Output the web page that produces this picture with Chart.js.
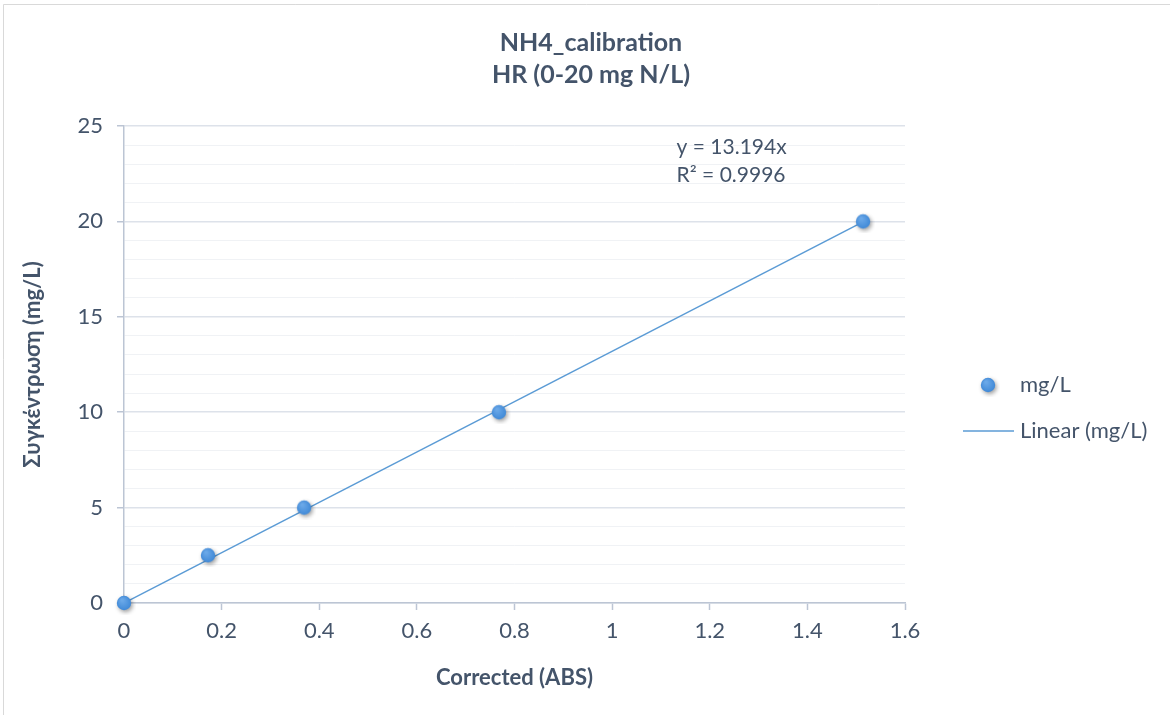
<!DOCTYPE html>
<html>
<head>
<meta charset="utf-8">
<script src="https://cdn.jsdelivr.net/npm/chart.js@4.4.0/dist/chart.umd.min.js"></script>
<style>
    html, body { margin: 0; padding: 0; background: #fff; }
    #wrap { position: relative; width: 1170px; height: 715px; }
</style>
</head>
<body>
<div id="wrap"><canvas id="nh4CalibrationChart" width="1170" height="715"></canvas></div>
<script>
'use strict';

// standards: corrected absorbance vs. concentration
var absValues   = [0, 0.172, 0.369, 0.768, 1.514];
var concValues  = [0, 2.5, 5, 10, 20];

// fitted trendline (through origin)
var fitSlope    = 13.194;
var fitR2       = 0.9996;

var xTickValues = [0, 0.2, 0.4, 0.6, 0.8, 1, 1.2, 1.4, 1.6];
var xTickLabels = ['0', '0.2', '0.4', '0.6', '0.8', '1', '1.2', '1.4', '1.6'];
var yTickValues = [0, 5, 10, 15, 20, 25];
var yTickLabels = ['0', '5', '10', '15', '20', '25'];

var titleLines  = ['NH4_calibration', 'HR (0-20 mg N/L)'];
var seriesName  = 'mg/L';
var trendName   = 'Linear (mg/L)';

var colors = {
    text       : '#44546a',
    marker     : '#3d87d6',
    markerLight: '#6aa8e8',
    trend      : '#5b9bd5',
    axis       : '#bcc5d4',
    gridMajor  : '#dde2ea',
    gridMinor  : '#f0f2f5',
    frame      : '#d9d9d9'
};
var fontFamily = "Lato, 'Noto Sans', sans-serif";

var scatterPoints = absValues.map(function(x, i) {
    return { x: x, y: concValues[i] };
});
var xLast = absValues[absValues.length - 1];
var trendPoints = [
    { x: 0, y: 0 },
    { x: xLast, y: fitSlope * xLast }
];

// round marker with a soft drop shadow, used for points and legend
function makeMarker() {
    var c = document.createElement('canvas');
    c.width = 24; c.height = 24;
    var g = c.getContext('2d');
    g.shadowColor = 'rgba(0, 0, 0, 0.38)';
    g.shadowBlur = 4;
    g.shadowOffsetX = 1.5;
    g.shadowOffsetY = 2;
    var grad = g.createRadialGradient(10, 9, 1, 12, 12, 8);
    grad.addColorStop(0, colors.markerLight);
    grad.addColorStop(1, colors.marker);
    g.fillStyle = grad;
    g.beginPath();
    g.arc(12, 12, 7.2, 0, Math.PI * 2);
    g.fill();
    return c;
}
var marker = makeMarker();

var chartDecor = {
    id: 'chartDecor',
    beforeDraw: function(chart) {
        var ctx = chart.ctx;
        ctx.save();
        ctx.fillStyle = '#ffffff';
        ctx.fillRect(0, 0, chart.width, chart.height);
        ctx.strokeStyle = colors.frame;
        ctx.lineWidth = 1;
        ctx.beginPath();
        ctx.moveTo(3.5, chart.height);
        ctx.lineTo(3.5, 4.5);
        ctx.lineTo(chart.width, 4.5);
        ctx.stroke();
        ctx.restore();
    },
    afterDraw: function(chart) {
        var ctx = chart.ctx;
        var area = chart.chartArea;
        var xs = chart.scales.x, ys = chart.scales.y;
        ctx.save();
        ctx.fillStyle = colors.text;
        ctx.textBaseline = 'middle';

        // chart title
        ctx.textAlign = 'center';
        ctx.font = 'bold 25px ' + fontFamily;
        titleLines.forEach(function(line, i) {
            ctx.fillText(line, 591, 43 + i * 32);
        });

        // trendline equation
        ctx.textAlign = 'left';
        ctx.font = '21px ' + fontFamily;
        var ex = xs.getPixelForValue(1.132);
        var ey = ys.getPixelForValue(23.9);
        ctx.fillText('y = ' + fitSlope + 'x', ex, ey);
        ctx.fillText('R\u00b2 = ' + fitR2, ex, ey + 28);

        // legend
        var lx = area.right + 58;
        ctx.drawImage(marker, lx + 25 - 12, 385 - 12);
        ctx.strokeStyle = colors.trend;
        ctx.lineWidth = 1.5;
        ctx.beginPath();
        ctx.moveTo(lx, 431);
        ctx.lineTo(lx + 51, 431);
        ctx.stroke();
        ctx.font = '22px ' + fontFamily;
        ctx.fillText(seriesName, lx + 57, 385);
        ctx.fillText(trendName, lx + 57, 431);
        ctx.restore();
    }
};

new Chart(document.getElementById('nh4CalibrationChart'), {
    type: 'scatter',
    data: {
        datasets: [{
            label: seriesName,
            data: scatterPoints,
            pointStyle: marker,
            pointRadius: 8,
            pointHoverRadius: 8,
            clip: false,
            order: 0
        }, {
            type: 'line',
            label: trendName,
            data: trendPoints,
            borderColor: colors.trend,
            borderWidth: 1.5,
            pointRadius: 0,
            fill: false,
            tension: 0,
            order: 1
        }]
    },
    options: {
        responsive: false,
        animation: false,
        layout: {
            padding: { top: 126, right: 265, bottom: 0, left: 0 }
        },
        plugins: {
            legend: { display: false },
            title: { display: false },
            tooltip: { enabled: false }
        },
        scales: {
            x: {
                type: 'linear',
                min: 0,
                max: 1.6,
                afterBuildTicks: function(scale) {
                    scale.ticks = xTickValues.map(function(v) { return { value: v }; });
                },
                afterFit: function(scale) { scale.height = 112; },
                border: { display: true, color: colors.axis, width: 1.5 },
                grid: {
                    drawOnChartArea: false,
                    drawTicks: true,
                    tickLength: 7,
                    tickColor: colors.axis,
                    tickWidth: 1.5
                },
                ticks: {
                    color: colors.text,
                    padding: 8,
                    maxRotation: 0,
                    autoSkip: false,
                    font: { size: 22, family: fontFamily },
                    callback: function(value) {
                        var i = xTickValues.indexOf(Math.round(value * 10) / 10);
                        return i >= 0 ? xTickLabels[i] : '';
                    }
                },
                title: {
                    display: true,
                    text: 'Corrected (ABS)',
                    color: colors.text,
                    font: { size: 22, weight: 'bold', family: fontFamily },
                    padding: { top: 0, bottom: 24 }
                }
            },
            y: {
                type: 'linear',
                min: 0,
                max: 25,
                afterFit: function(scale) { scale.width = 124; },
                border: { display: true, color: colors.axis, width: 1.5 },
                grid: {
                    drawTicks: true,
                    tickLength: 7,
                    lineWidth: function(ctx) {
                        return ctx.tick && ctx.tick.value % 5 === 0 ? 1.5 : 1;
                    },
                    color: function(ctx) {
                        return ctx.tick && ctx.tick.value % 5 === 0 ? colors.gridMajor : colors.gridMinor;
                    },
                    tickColor: function(ctx) {
                        return ctx.tick && ctx.tick.value % 5 === 0 ? colors.axis : 'rgba(0,0,0,0)';
                    }
                },
                ticks: {
                    stepSize: 1,
                    autoSkip: false,
                    color: colors.text,
                    padding: 14,
                    font: { size: 22, family: fontFamily },
                    callback: function(value) {
                        var i = yTickValues.indexOf(value);
                        return i >= 0 ? yTickLabels[i] : '';
                    }
                },
                title: {
                    display: true,
                    text: 'Συγκέντρωση (mg/L)',
                    color: colors.text,
                    font: { size: 22, weight: 'bold', family: fontFamily },
                    padding: { top: 20, bottom: 0 }
                }
            }
        }
    },
    plugins: [chartDecor]
});
</script>
</body>
</html>
